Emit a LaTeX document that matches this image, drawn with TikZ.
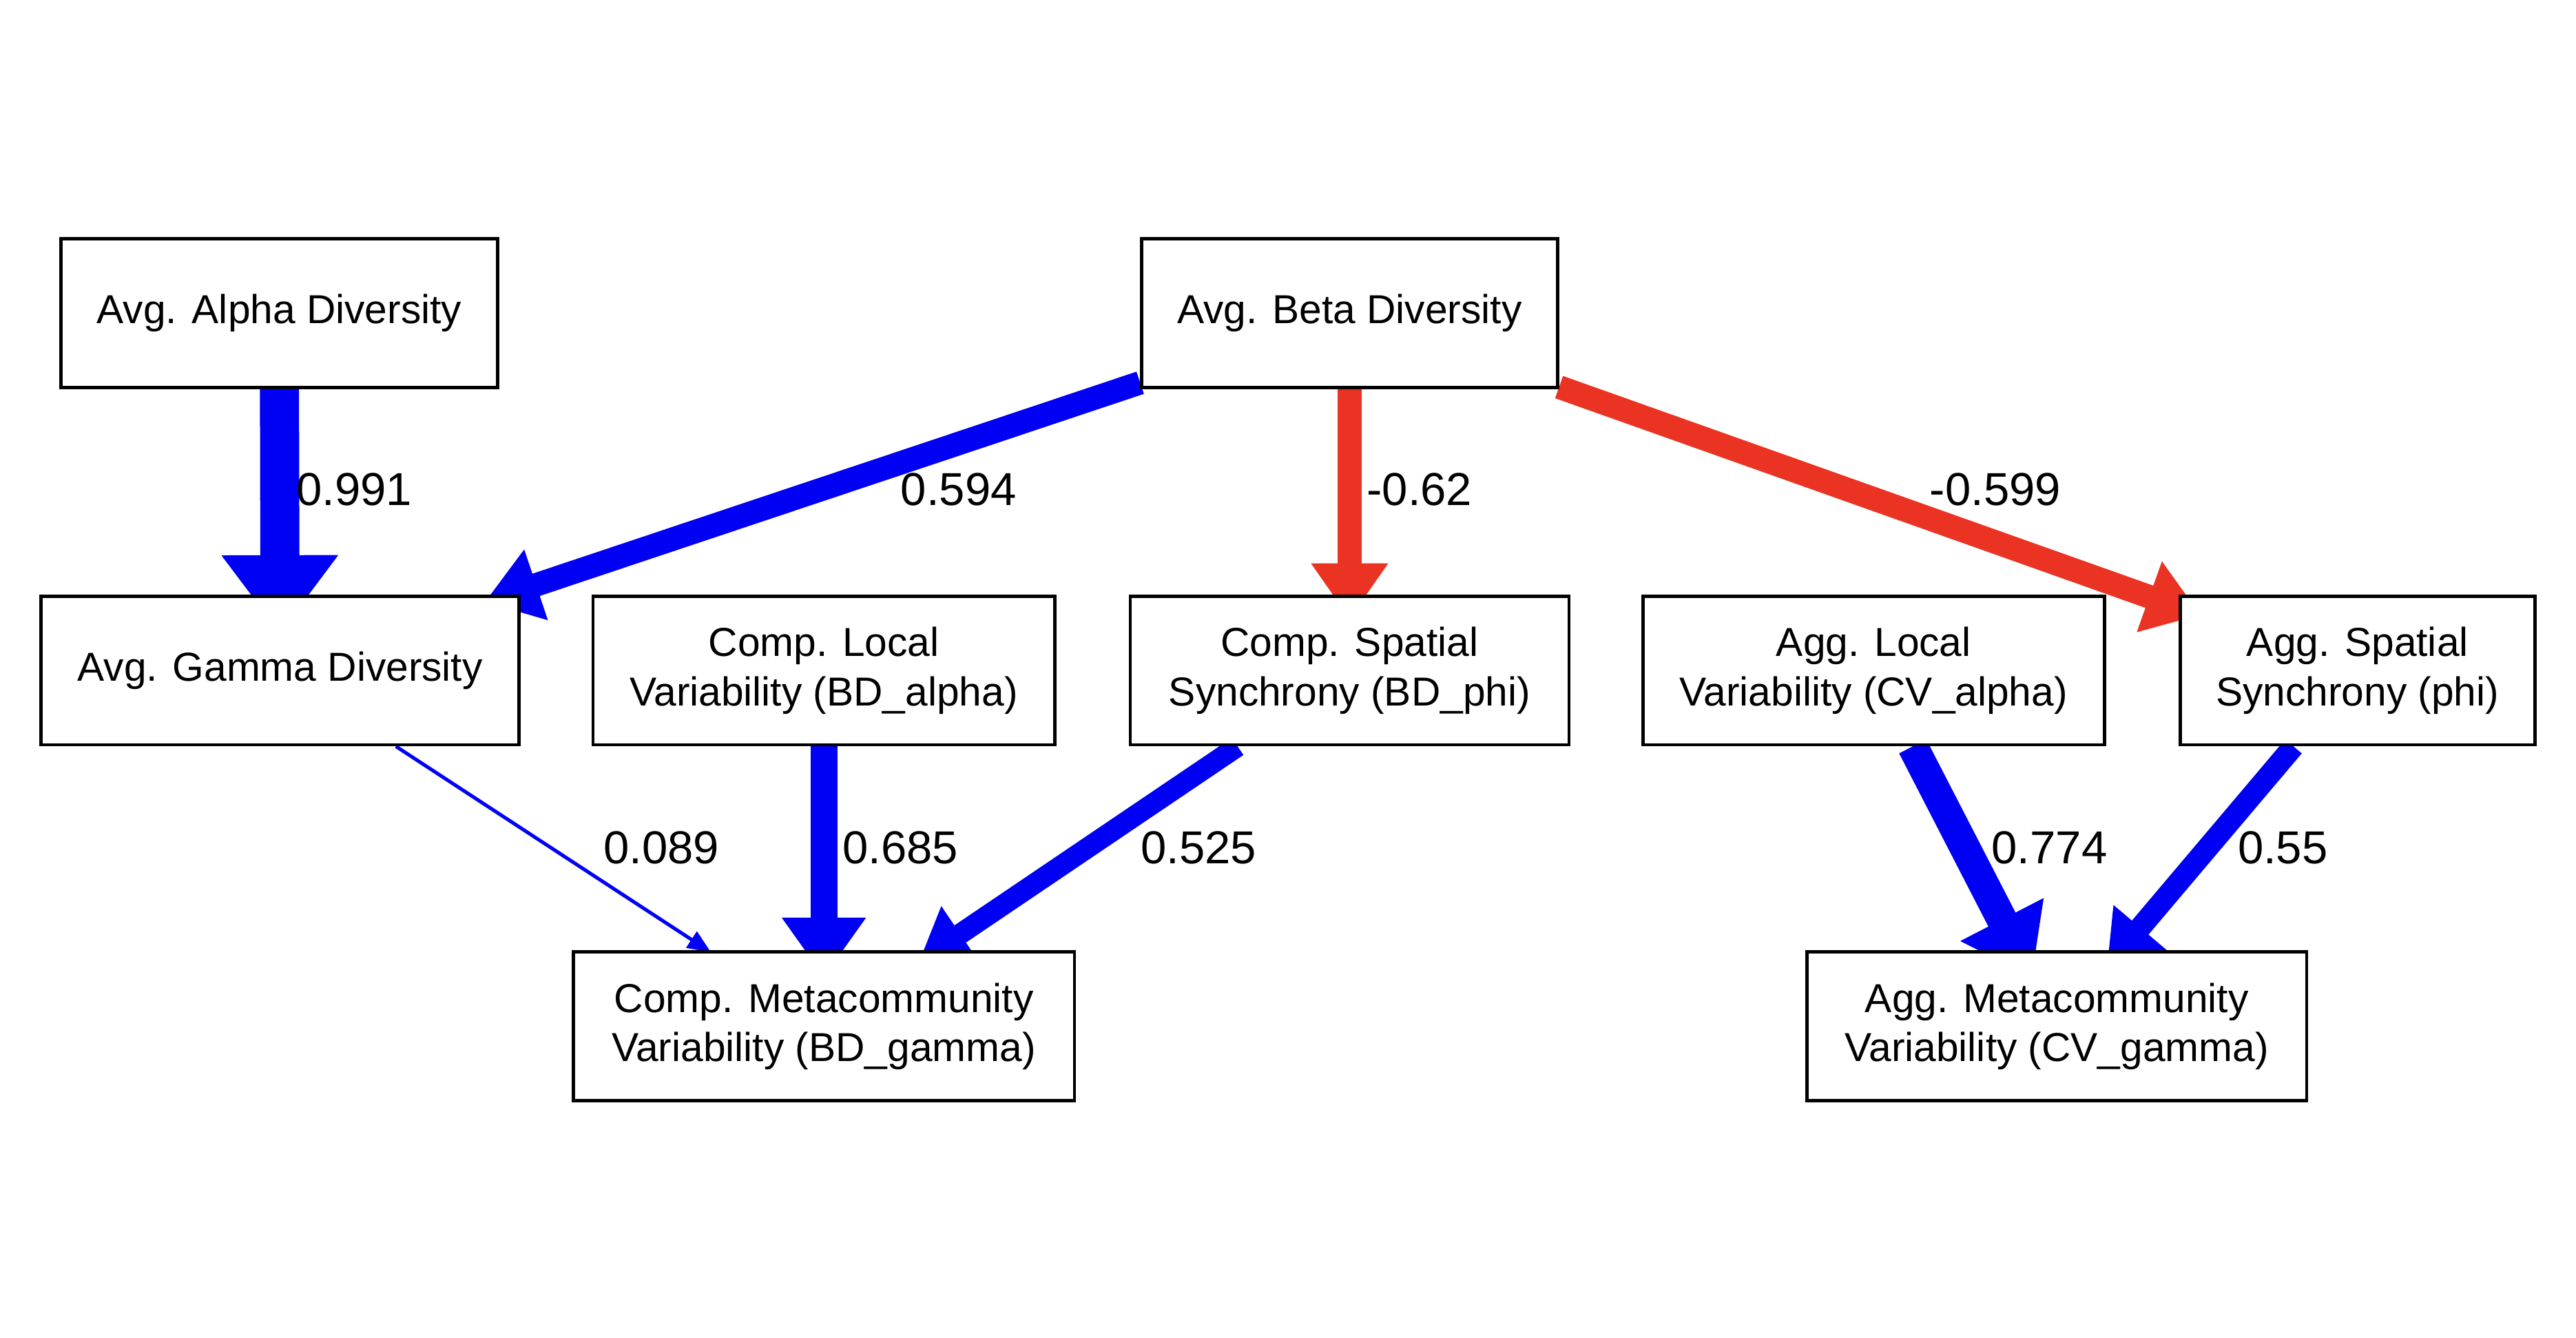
\documentclass[tikz,border=0pt]{standalone}
\usepackage{fontspec}
\setmainfont{Liberation Sans}
\usetikzlibrary{arrows.meta}

\definecolor{posblue}{RGB}{0,0,245}
\definecolor{negred}{RGB}{234,51,35}

\pgfdeclarelayer{back}
\pgfsetlayers{back,main}

\tikzset{
	var/.style={draw, fill=white, line width=1.4pt, align=center, inner sep=0pt,
		font=\fontsize{17.5}{21.3}\selectfont, minimum height=22.6mm},
	coef/.style={font=\fontsize{20}{24}\selectfont, inner sep=0pt},
	eff/.style={line width=#1*6mm, shorten >=-#1*6mm,
		-{Triangle[length=7.75pt 1.55, width=4.27pt 2.6]}},
	poseff/.style={eff=#1, posblue},
	negeff/.style={eff=#1, negred},
}

\begin{document}
\begin{tikzpicture}[x=0.25mm, y=-0.25mm]
	\useasboundingbox (0,0) rectangle (1568,814);

	% top row
	\node [var, minimum width=66.5mm](ALPHA) at (170,190.5) {Avg. Alpha Diversity};
	\node [var, minimum width=63.25mm](BETA) at (821.5,190.5) {Avg. Beta Diversity};

	% middle row
	\node [var, minimum width=72.75mm](GAMMA) at (170.5,408) {Avg. Gamma Diversity};
	\node [var, minimum width=70.25mm](COMP_LOC) at (501.5,408) {Comp. Local\\Variability (BD\_alpha)};
	\node [var, minimum width=66.75mm](COMP_SYN) at (821.5,408) {Comp. Spatial\\Synchrony (BD\_phi)};
	\node [var, minimum width=70.25mm](AGG_LOC) at (1140.5,408) {Agg. Local\\Variability (CV\_alpha)};
	\node [var, minimum width=54mm](AGG_SYN) at (1435,408) {Agg. Spatial\\Synchrony (phi)};

	% bottom row
	\node [var, minimum width=76.25mm](COMP_META) at (501.5,624.5) {Comp. Metacommunity\\Variability (BD\_gamma)};
	\node [var, minimum width=76mm](AGG_META) at (1252,624.5) {Agg. Metacommunity\\Variability (CV\_gamma)};

	% path coefficients
	\node [coef](C_AG) at (215.5,298) {0.991};
	\node [coef](C_BG) at (583.5,298) {0.594};
	\node [coef](C_BS) at (864,298) {-0.62};
	\node [coef](C_BA) at (1214.5,298) {-0.599};
	\node [coef](C_GM) at (402.5,516) {0.089};
	\node [coef](C_LM) at (548,516) {0.685};
	\node [coef](C_SM) at (729.5,516) {0.525};
	\node [coef](C_AL) at (1247.5,516) {0.774};
	\node [coef](C_AS) at (1389.5,516) {0.55};

	\begin{pgfonlayer}{back}
		\draw [poseff=0.991] (ALPHA) -- (GAMMA);
		\draw [poseff=0.594] (BETA) -- (GAMMA);
		\draw [negeff=0.62] (BETA) -- (COMP_SYN);
		\draw [negeff=0.599] (BETA) -- (AGG_SYN);
		\draw [poseff=0.089] (GAMMA) -- (COMP_META);
		\draw [poseff=0.685] (COMP_LOC) -- (COMP_META);
		\draw [poseff=0.525] (COMP_SYN) -- (COMP_META);
		\draw [poseff=0.774] (AGG_LOC) -- (AGG_META);
		\draw [poseff=0.55] (AGG_SYN) -- (AGG_META);
	\end{pgfonlayer}
\end{tikzpicture}
\end{document}
